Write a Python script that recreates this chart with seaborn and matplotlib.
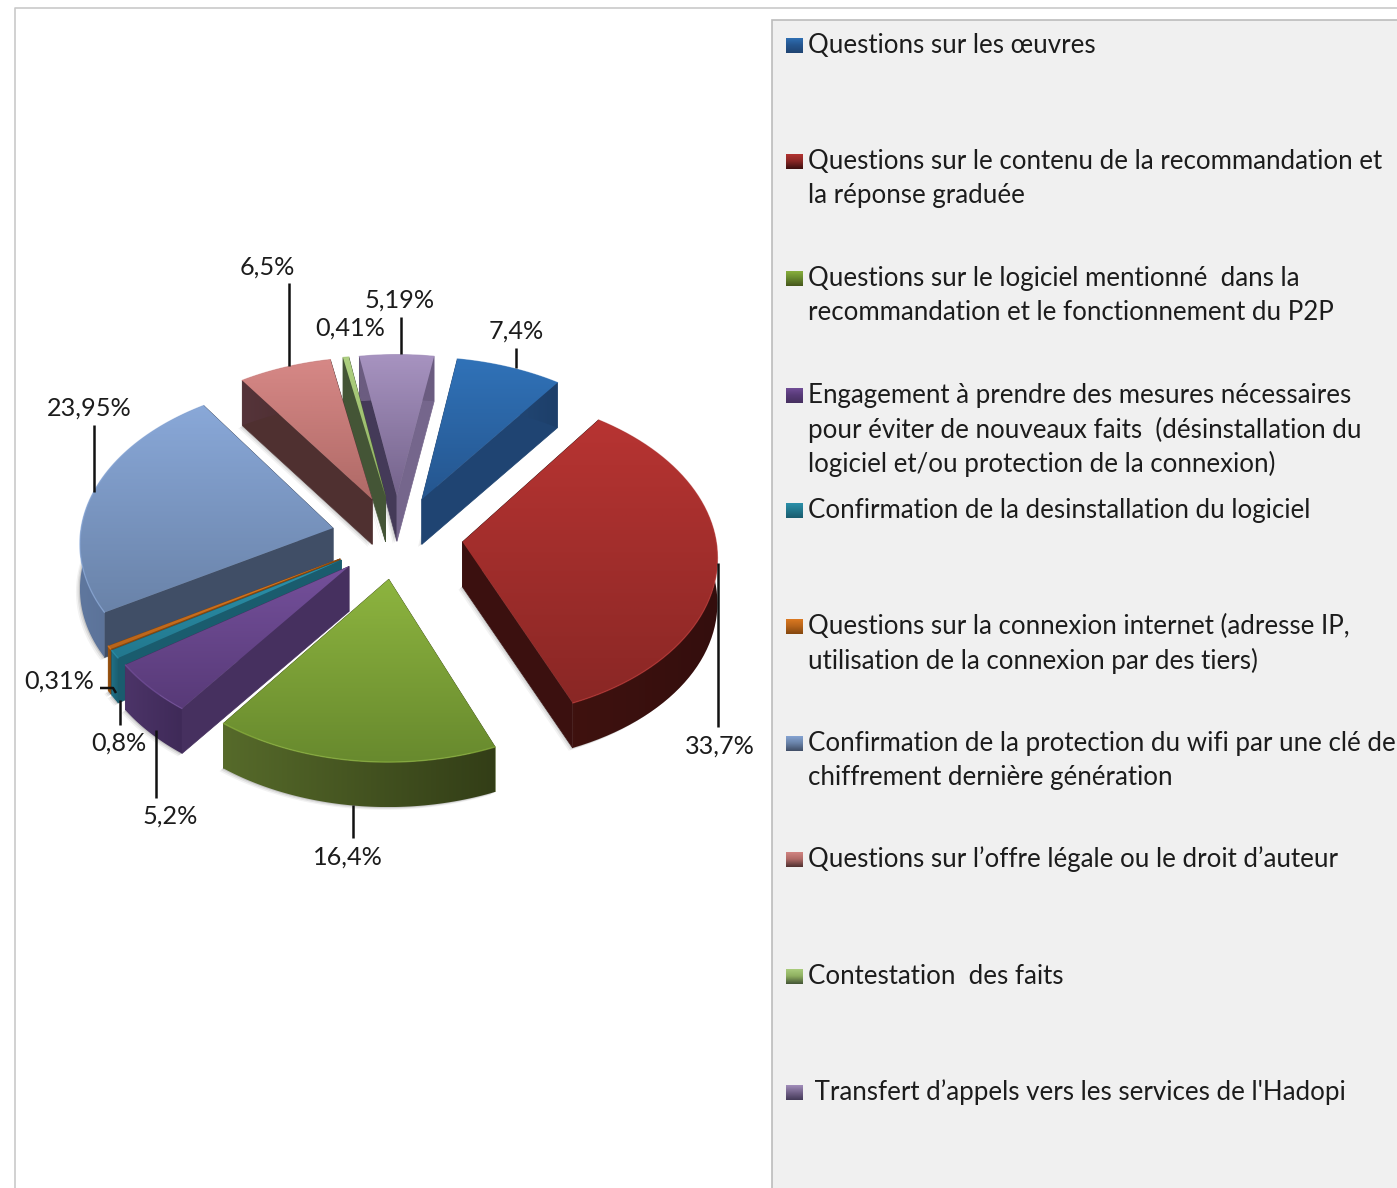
import numpy as np
import matplotlib
matplotlib.use('Agg')
from matplotlib import pyplot as plt
from matplotlib.patches import Polygon, Rectangle
import seaborn as sns

sns.set_theme(style="white")
plt.rcParams['font.family'] = ['Lato', 'DejaVu Sans']

# data
categories = ["Questions sur les œuvres",
              "Questions sur le contenu de la recommandation et\nla réponse graduée",
              "Questions sur le logiciel mentionné  dans la\nrecommandation et le fonctionnement du P2P",
              "Engagement à prendre des mesures nécessaires\npour éviter de nouveaux faits  (désinstallation du\nlogiciel et/ou protection de la connexion)",
              "Confirmation de la desinstallation du logiciel",
              "Questions sur la connexion internet (adresse IP,\nutilisation de la connexion par des tiers)",
              "Confirmation de la protection du wifi par une clé de\nchiffrement dernière génération",
              "Questions sur l’offre légale ou le droit d’auteur",
              "Contestation  des faits",
              " Transfert d’appels vers les services de l'Hadopi"]
values = [7.4, 33.7, 16.4, 5.2, 0.8, 0.31, 23.95, 6.5, 0.41, 5.19]
value_labels = ["7,4%", "33,7%", "16,4%", "5,2%", "0,8%", "0,31%", "23,95%", "6,5%", "0,41%", "5,19%"]

face_top = ['#3072b8', '#b73432', '#8db43f', '#74509b', '#2c93ad', '#e07c22', '#89a8d8', '#d68886', '#aed080', '#a793c0']
face_bot = ['#25568f', '#8a2725', '#688a2e', '#583a78', '#22788e', '#b8641a', '#6a83a9', '#b06a67', '#8fb060', '#75648c']
wall_col = ['#1f4472', '#3b100f', '#46561c', '#46305f', '#1a5c6e', '#84470f', '#404e66', '#4f3030', '#445536', '#443a58']
wall_end = ['#1f4472', '#3b100f', '#46561c', '#46305f', '#1a5c6e', '#84470f', '#404e66', '#4f3030', '#445536', '#75668c']
rim_left = ['#27507f', '#3f120f', '#566a2a', '#4c3468', '#1f7086', '#a0560f', '#5f779e', '#55343a', '#445536', '#6b5c80']
rim_right = ['#1d3f6a', '#340e0d', '#333e17', '#3f2a58', '#1a5c6e', '#84470f', '#4f6385', '#4a2c2c', '#445536', '#6b5c80']

# perspective of the pie
CX, CY = 397, 537
SX, SY = 253, 160
PERSP_X = 0.08
PERSP_Y = 0.084
DEPTH = 45
EXPLODE = 0.26
START = 9.3


def project(x, y, down=0.0):
    return CX + SX * x / (1 + PERSP_X * y), CY - SY * y / (1 + PERSP_Y * y) + down


def gradient(ax, verts, colors, zorder, horizontal=False):
    verts = np.asarray(verts)
    cmap = matplotlib.colors.ListedColormap(sns.blend_palette(colors, 64))
    grad = np.linspace(0, 1, 128).reshape(-1, 1)
    if horizontal:
        grad = grad.T
    box = (verts[:, 0].min(), verts[:, 0].max(), verts[:, 1].max(), verts[:, 1].min())
    im = ax.imshow(grad, cmap=cmap, extent=box, aspect='auto', zorder=zorder, interpolation='bilinear')
    clip = Polygon(verts, closed=True, transform=ax.transData, fc='none', ec='none')
    ax.add_patch(clip)
    im.set_clip_path(clip)


fig = plt.figure(figsize=(13.97, 11.88), dpi=100)
ax = fig.add_axes([0, 0, 1, 1])
ax.set_axis_off()

# page frame and legend panel
ax.plot([15, 15, 1397], [1188, 8, 8], color='#c9c9c9', lw=1.2, zorder=1)
ax.add_patch(Rectangle((772, 20), 640, 1190, fc='#f0f0f0', ec='#bcbcbc', lw=1.2, zorder=1))

shares = np.array(values) / np.sum(values) * 360
ends = START + np.cumsum(shares)
starts = ends - shares
mids = np.radians((starts + ends) / 2)

# back slices first
order = np.argsort(-np.cos(mids))
z = 3
for i in order:
    ox, oy = EXPLODE * np.sin(mids[i]), EXPLODE * np.cos(mids[i])
    th = np.radians(np.linspace(starts[i], ends[i], 60))
    arc_x, arc_y = ox + np.sin(th), oy + np.cos(th)
    top = np.array(project(arc_x, arc_y)).T
    low = np.array(project(arc_x, arc_y, DEPTH)).T
    apex = np.array(project(ox, oy))
    apex_low = np.array(project(ox, oy, DEPTH))

    # soft shadow
    hull = np.vstack([apex_low, low])
    for off, alpha in [(1, 0.12), (2.5, 0.08), (4, 0.05)]:
        ax.add_patch(Polygon(hull + [-off, off * 0.7], fc='black', ec='none', alpha=alpha, zorder=z))
    z += 1

    ax.add_patch(Polygon([apex, top[0], low[0], apex_low], fc=wall_col[i], ec=wall_col[i], lw=0.5, zorder=z))
    ax.add_patch(Polygon([apex, top[-1], low[-1], apex_low], fc=wall_end[i], ec=wall_end[i], lw=0.5, zorder=z))
    z += 1
    gradient(ax, np.vstack([top, low[::-1]]), [rim_left[i], rim_right[i]], z, horizontal=True)
    z += 1
    gradient(ax, np.vstack([apex, top]), [face_top[i], face_bot[i]], z)
    z += 1
    ax.plot(top[:, 0], top[:, 1], color=face_top[i], lw=1.0, alpha=0.7, zorder=z)
    z += 1

# value labels and leader lines
label_pos = [(516, 331), (720, 746), (348, 857), (170, 816), (119, 743), (59, 681), (89, 408), (267, 267), (350, 328), (400, 300)]
leaders = [[(516, 348), (516, 368)], [(718, 563), (718, 727)], [(353, 805), (353, 838)], [(156, 730), (156, 798)],
           [(120, 700), (120, 725)], [(100, 688), (113, 688), (116, 693)], [(94, 425), (94, 492)],
           [(289, 283), (289, 366)], [], [(401, 317), (401, 354)]]
for lab, pos, line in zip(value_labels, label_pos, leaders):
    ax.text(pos[0], pos[1], lab, fontsize=18.2, color='#1c1c1c', ha='center', va='center', zorder=400)
    if line:
        ax.plot(*zip(*line), color='#111111', lw=1.8, zorder=401, solid_capstyle='butt')

# legend
legend_y = [45.5, 161.5, 278.5, 395.5, 510.5, 626.5, 743.5, 859.5, 976.5, 1092.5]
for i, (cat, y) in enumerate(zip(categories, legend_y)):
    box = [(786, y - 8), (803, y - 8), (803, y + 8), (786, y + 8)]
    gradient(ax, box, [face_top[i], face_bot[i], wall_col[i]], 410)
    for k, line in enumerate(cat.split('\n')):
        ax.text(808, y + k * 34.2, line, fontsize=18.65, color='#1c1c1c', ha='left', va='center', zorder=411)

ax.set_xlim(0, 1397)
ax.set_ylim(1188, 0)
fig.savefig('out.png', dpi=100)
